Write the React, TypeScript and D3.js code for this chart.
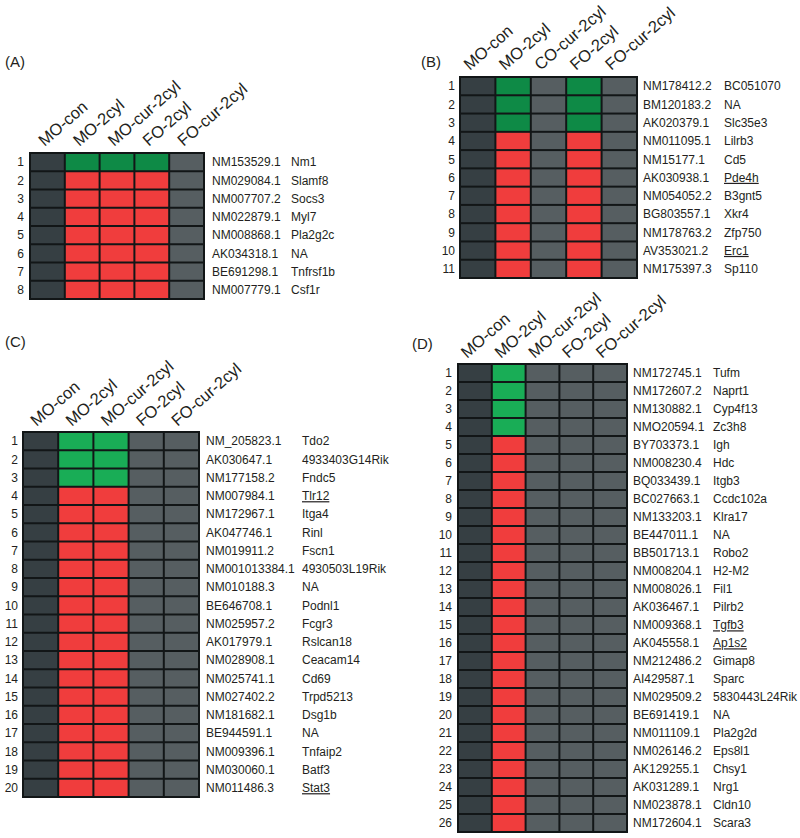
import React, { useEffect, useRef } from "react";
import * as d3 from "d3";

// ---------- data ----------
const colsStd = ["MO-con", "MO-2cyl", "MO-cur-2cyl", "FO-2cyl", "FO-cur-2cyl"];
const colsB = ["MO-con", "MO-2cyl", "CO-cur-2cyl", "FO-2cyl", "FO-cur-2cyl"];

// Panel A
const accA = ["NM153529.1", "NM029084.1", "NM007707.2", "NM022879.1", "NM008868.1", "AK034318.1", "BE691298.1", "NM007779.1"];
const geneA = ["Nm1", "Slamf8", "Socs3", "Myl7", "Pla2g2c", "NA", "Tnfrsf1b", "Csf1r"];
const dirA = [-1, 1, 1, 1, 1, 1, 1, 1];
const hitA = [0, 1, 1, 1, 0];

// Panel B
const accB = ["NM178412.2", "BM120183.2", "AK020379.1", "NM011095.1", "NM15177.1", "AK030938.1", "NM054052.2", "BG803557.1", "NM178763.2", "AV353021.2", "NM175397.3"];
const geneB = ["BC051070", "NA", "Slc35e3", "Lilrb3", "Cd5", "Pde4h", "B3gnt5", "Xkr4", "Zfp750", "Erc1", "Sp110"];
const dirB = [-1, -1, -1, 1, 1, 1, 1, 1, 1, 1, 1];
const hitB = [0, 1, 0, 1, 0];
const ulB = ["Pde4h", "Erc1"];

// Panel C
const accC = ["NM_205823.1", "AK030647.1", "NM177158.2", "NM007984.1", "NM172967.1", "AK047746.1", "NM019911.2", "NM001013384.1", "NM010188.3", "BE646708.1", "NM025957.2", "AK017979.1", "NM028908.1", "NM025741.1", "NM027402.2", "NM181682.1", "BE944591.1", "NM009396.1", "NM030060.1", "NM011486.3"];
const geneC = ["Tdo2", "4933403G14Rik", "Fndc5", "Tlr12", "Itga4", "Rinl", "Fscn1", "4930503L19Rik", "NA", "Podnl1", "Fcgr3", "Rslcan18", "Ceacam14", "Cd69", "Trpd5213", "Dsg1b", "NA", "Tnfaip2", "Batf3", "Stat3"];
const dirC = [-1, -1, -1, 1, 1, 1, 1, 1, 1, 1, 1, 1, 1, 1, 1, 1, 1, 1, 1, 1];
const hitC = [0, 1, 1, 0, 0];
const ulC = ["Tlr12", "Stat3"];

// Panel D
const accD = ["NM172745.1", "NM172607.2", "NM130882.1", "NMO20594.1", "BY703373.1", "NM008230.4", "BQ033439.1", "BC027663.1", "NM133203.1", "BE447011.1", "BB501713.1", "NM008204.1", "NM008026.1", "AK036467.1", "NM009368.1", "AK045558.1", "NM212486.2", "AI429587.1", "NM029509.2", "BE691419.1", "NM011109.1", "NM026146.2", "AK129255.1", "AK031289.1", "NM023878.1", "NM172604.1"];
const geneD = ["Tufm", "Naprt1", "Cyp4f13", "Zc3h8", "Igh", "Hdc", "Itgb3", "Ccdc102a", "Klra17", "NA", "Robo2", "H2-M2", "Fil1", "Pilrb2", "Tgfb3", "Ap1s2", "Gimap8", "Sparc", "5830443L24Rik", "NA", "Pla2g2d", "Eps8l1", "Chsy1", "Nrg1", "Cldn10", "Scara3"];
const dirD = [-1, -1, -1, -1, 1, 1, 1, 1, 1, 1, 1, 1, 1, 1, 1, 1, 1, 1, 1, 1, 1, 1, 1, 1, 1, 1];
const hitD = [0, 1, 0, 0, 0];
const ulD = ["Tgfb3", "Ap1s2"];

// ---------- layout ----------
type Panel = {
  tag: string; cols: string[]; acc: string[]; gene: string[]; dir: number[]; hit: number[]; ul: string[];
  x0: number; x1: number; top: number; bottom: number; numX: number; accX: number; geneX: number;
  tagX: number; tagY: number; green: string; hdx: number; hdy: number;
};

const panels: Panel[] = [
  { tag: "(A)", cols: colsStd, acc: accA, gene: geneA, dir: dirA, hit: hitA, ul: [],
    x0: 30, x1: 204, top: 153, bottom: 299, numX: 24, accX: 212, geneX: 291, tagX: 5, tagY: 67, green: "#0e8a46", hdx: -3, hdy: -6 },
  { tag: "(B)", cols: colsB, acc: accB, gene: geneB, dir: dirB, hit: hitB, ul: ulB,
    x0: 460, x1: 637, top: 77, bottom: 278, numX: 455, accX: 643, geneX: 724, tagX: 421, tagY: 67, green: "#0e8a46", hdx: -8, hdy: -6 },
  { tag: "(C)", cols: colsStd, acc: accC, gene: geneC, dir: dirC, hit: hitC, ul: ulC,
    x0: 23, x1: 199, top: 432, bottom: 797, numX: 18, accX: 206, geneX: 302, tagX: 5, tagY: 347, green: "#19ad56", hdx: -4, hdy: -5 },
  { tag: "(D)", cols: colsStd, acc: accD, gene: geneD, dir: dirD, hit: hitD, ul: ulD,
    x0: 458, x1: 627, top: 364, bottom: 832, numX: 452, accX: 633, geneX: 713, tagX: 412, tagY: 349, green: "#19ad56", hdx: -8, hdy: -5 },
];

const FONT = "'Liberation Sans', Arial, Helvetica, sans-serif";
const RED = "#f03d3d";
const CTRL = "#363f43";
const GREY = "#565e61";
const BORDER = "#121617";

export default function App() {
  const ref = useRef<SVGSVGElement | null>(null);

  useEffect(() => {
    const svg = d3.select(ref.current);
    svg.selectAll("*").remove();
    svg.append("rect").attr("width", 800).attr("height", 838).attr("fill", "#ffffff");

    panels.forEach((p) => {
      const g = svg.append("g");
      const x = d3.scaleBand<number>().domain(d3.range(p.cols.length)).range([p.x0, p.x1]);
      const y = d3.scaleBand<number>().domain(d3.range(p.acc.length)).range([p.top, p.bottom]);

      g.append("text").attr("x", p.tagX).attr("y", p.tagY).text(p.tag)
        .attr("font-family", FONT).attr("font-size", 15).attr("fill", "#231f20");

      // background/border
      g.append("rect").attr("x", p.x0 - 1).attr("y", p.top - 1)
        .attr("width", p.x1 - p.x0 + 2).attr("height", p.bottom - p.top + 2).attr("fill", BORDER);

      const cells: { r: number; c: number; v: number }[] = [];
      p.acc.forEach((_, r) => p.cols.forEach((__, c) => cells.push({ r, c, v: p.dir[r] * p.hit[c] })));
      g.selectAll("rect.cell").data(cells).enter().append("rect")
        .attr("class", "cell")
        .attr("x", (d) => (x(d.c) as number) + 1)
        .attr("y", (d) => (y(d.r) as number) + 1)
        .attr("width", x.bandwidth() - 2)
        .attr("height", y.bandwidth() - 2)
        .attr("fill", (d) => (d.v > 0 ? RED : d.v < 0 ? p.green : d.c === 0 ? CTRL : GREY));

      // column headers
      g.selectAll("text.col").data(p.cols).enter().append("text")
        .attr("transform", (_, i) => `translate(${(x(i) as number) + x.bandwidth() / 2 + p.hdx},${p.top + p.hdy}) rotate(-41)`)
        .text((d) => d)
        .attr("font-family", FONT).attr("font-size", 16.5).attr("fill", "#231f20");

      // row numbers
      g.selectAll("text.num").data(p.acc).enter().append("text")
        .attr("x", p.numX).attr("y", (_, i) => (y(i) as number) + y.bandwidth() / 2)
        .attr("dy", "0.36em").attr("text-anchor", "end").text((_, i) => String(i + 1))
        .attr("font-family", FONT).attr("font-size", 12).attr("fill", "#231f20");

      g.selectAll("text.acc").data(p.acc).enter().append("text")
        .attr("x", p.accX).attr("y", (_, i) => (y(i) as number) + y.bandwidth() / 2)
        .attr("dy", "0.36em").text((d) => d)
        .attr("font-family", FONT).attr("font-size", 12).attr("fill", "#231f20");

      g.selectAll("text.gene").data(p.gene).enter().append("text")
        .attr("x", p.geneX).attr("y", (_, i) => (y(i) as number) + y.bandwidth() / 2)
        .attr("dy", "0.36em").text((d) => d)
        .attr("text-decoration", (d) => (p.ul.includes(d) ? "underline" : "none"))
        .attr("font-family", FONT).attr("font-size", 12).attr("fill", "#231f20");
    });
  }, []);

  return (
    <svg ref={ref} width={800} height={838}
      style={{ position: "absolute", left: 0, top: 0, display: "block" }} />
  );
}
